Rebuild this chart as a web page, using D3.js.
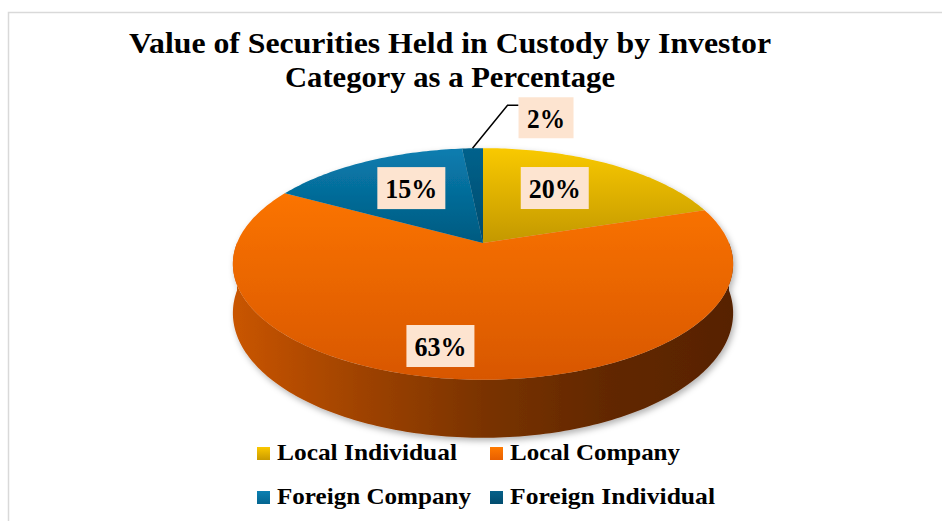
<!DOCTYPE html>
<html>
<head>
<meta charset="utf-8">
<script src="https://cdn.jsdelivr.net/npm/d3@7"></script>
<style>
  body { margin: 0; background: #fff; }
  text { font-family: "Palatino Linotype", "Book Antiqua", "Liberation Serif", serif; font-weight: bold; }
</style>
</head>
<body>
<svg id="chart" width="942" height="521"></svg>
<script>
// data
const categories = ["Local Individual", "Local Company", "Foreign Company", "Foreign Individual"];
const shares = [20.0, 63.0, 15.4, 1.6];
const shareLabels = ["20%", "63%", "15%", "2%"];
const titleLines = ["Value of Securities Held in Custody by Investor", "Category as a Percentage"];

// colours: [light, dark] per slice
const topColors = [["#f9c900", "#c39800"], ["#fb7400", "#d85700"], ["#0a7db0", "#005a80"], ["#03628c", "#004a6c"]];
const legendColors = [["#fbc800", "#c99a00"], ["#ff7a00", "#e85f00"], ["#0b80b2", "#056590"], ["#06618a", "#024c6e"]];

// pie geometry (perspective tilt)
const CX = 483, CY = 243;
const A = 246, B = 112, K = 0.181, DEPTH = 47.5;

const proj = (theta, r, h) => {
  const u = r * Math.sin(theta);
  const v = -r * Math.cos(theta);
  const w = 1 - K * v;
  return [CX + A * u / w, CY + (B * v + h) / w];
};

const arcPoints = (a0, a1, r, h) => {
  const n = Math.max(2, Math.ceil((a1 - a0) / (Math.PI / 180)));
  return d3.range(n + 1).map(i => proj(a0 + (a1 - a0) * i / n, r, h));
};

const svg = d3.select("#chart");
const defs = svg.append("defs");
const line = d3.line();

// chart border
svg.append("rect")
  .attr("x", 8.5).attr("y", 12.5)
  .attr("width", 960).attr("height", 540)
  .attr("fill", "none").attr("stroke", "#d9d9d9").attr("stroke-width", 1.5);

// title
svg.append("g").selectAll("text")
  .data(titleLines)
  .join("text")
  .attr("x", 450)
  .attr("y", (d, i) => 53 + i * 34)
  .attr("text-anchor", "middle")
  .attr("font-size", 30)
  .attr("textLength", (d, i) => i === 0 ? 642 : 330)
  .attr("lengthAdjust", "spacingAndGlyphs")
  .attr("fill", "#000")
  .text(d => d);

// gradients
topColors.forEach((c, i) => {
  const g = defs.append("linearGradient").attr("id", `top${i}`)
    .attr("x1", 0).attr("y1", 0).attr("x2", 0).attr("y2", 1);
  g.append("stop").attr("offset", "0%").attr("stop-color", c[0]);
  g.append("stop").attr("offset", "100%").attr("stop-color", c[1]);
});
legendColors.forEach((c, i) => {
  const g = defs.append("linearGradient").attr("id", `leg${i}`)
    .attr("x1", 0).attr("y1", 0).attr("x2", 0).attr("y2", 1);
  g.append("stop").attr("offset", "0%").attr("stop-color", c[0]);
  g.append("stop").attr("offset", "100%").attr("stop-color", c[1]);
});
const side = defs.append("linearGradient").attr("id", "side")
  .attr("gradientUnits", "userSpaceOnUse")
  .attr("x1", CX - 250).attr("y1", 0).attr("x2", CX + 250).attr("y2", 0);
[["0%", "#c95500"], ["25%", "#a04300"], ["50%", "#7a3300"], ["75%", "#622800"], ["100%", "#572200"]]
  .forEach(([o, c]) => side.append("stop").attr("offset", o).attr("stop-color", c));

const shadow = defs.append("filter").attr("id", "shadow")
  .attr("x", "-10%").attr("y", "-10%").attr("width", "120%").attr("height", "130%");
shadow.append("feDropShadow")
  .attr("dx", 2).attr("dy", 3).attr("stdDeviation", 3)
  .attr("flood-color", "#000").attr("flood-opacity", 0.3);

// pie
const arcs = d3.pie().sort(null).value(d => d)(shares);
const pieG = svg.append("g").attr("filter", "url(#shadow)");

// visible side (front half only)
pieG.append("g").selectAll("path")
  .data(arcs.filter(a => a.endAngle > Math.PI / 2 && a.startAngle < 3 * Math.PI / 2))
  .join("path")
  .attr("d", a => {
    const a0 = Math.max(a.startAngle, Math.PI / 2);
    const a1 = Math.min(a.endAngle, 3 * Math.PI / 2);
    const topPts = arcPoints(a0, a1, 1, 0);
    const botPts = arcPoints(a0, a1, 1, DEPTH).reverse();
    return line(topPts.concat(botPts)) + "Z";
  })
  .attr("fill", "url(#side)");

// top faces
pieG.append("g").selectAll("path")
  .data(arcs)
  .join("path")
  .attr("d", a => line([proj(0, 0, 0)].concat(arcPoints(a.startAngle, a.endAngle, 1, 0))) + "Z")
  .attr("fill", (a, i) => `url(#top${i})`);

// data labels
const labelShift = [[-8, -5], [-27, 28], [3, -3.5]];
const labelG = svg.append("g");
arcs.forEach((a, i) => {
  const mid = (a.startAngle + a.endAngle) / 2;
  let cx, cy, w, h = 42;
  if (i < 3) {
    const p = proj(mid, 0.6, 0);
    cx = p[0] + labelShift[i][0];
    cy = p[1] + labelShift[i][1];
    w = 68;
  } else {
    // small slice: leader line out of the edge
    const p = proj(mid, 1, 0);
    const elbow = [p[0] + 35, p[1] - 43];
    const end = [elbow[0] + 11, elbow[1]];
    labelG.append("path")
      .attr("d", line([p, elbow, end]))
      .attr("fill", "none").attr("stroke", "#000").attr("stroke-width", 1.5);
    w = 55; h = 41;
    cx = end[0] + w / 2;
    cy = end[1] + 12.5;
  }
  labelG.append("rect")
    .attr("x", cx - w / 2).attr("y", cy - h / 2)
    .attr("width", w).attr("height", h)
    .attr("fill", "#fde4d0");
  labelG.append("text")
    .attr("x", cx).attr("y", cy + 10)
    .attr("text-anchor", "middle")
    .attr("font-size", 28)
    .attr("textLength", i < 3 ? 52 : 38)
    .attr("lengthAdjust", "spacingAndGlyphs")
    .attr("fill", "#000")
    .text(shareLabels[i]);
});

// legend
const legendX = [257, 490];
const legendY = [460, 504];
const legendW = [180, 170, 194, 205];
const legend = svg.append("g").selectAll("g")
  .data(categories)
  .join("g")
  .attr("transform", (d, i) => `translate(${legendX[i % 2]},${legendY[Math.floor(i / 2)]})`);
legend.append("rect")
  .attr("x", 0).attr("y", -13)
  .attr("width", 13).attr("height", 13)
  .attr("fill", (d, i) => `url(#leg${i})`);
legend.append("text")
  .attr("x", 20).attr("y", 0)
  .attr("font-size", 23)
  .attr("textLength", (d, i) => legendW[i])
  .attr("lengthAdjust", "spacingAndGlyphs")
  .attr("fill", "#000")
  .text(d => d);
</script>
</body>
</html>
